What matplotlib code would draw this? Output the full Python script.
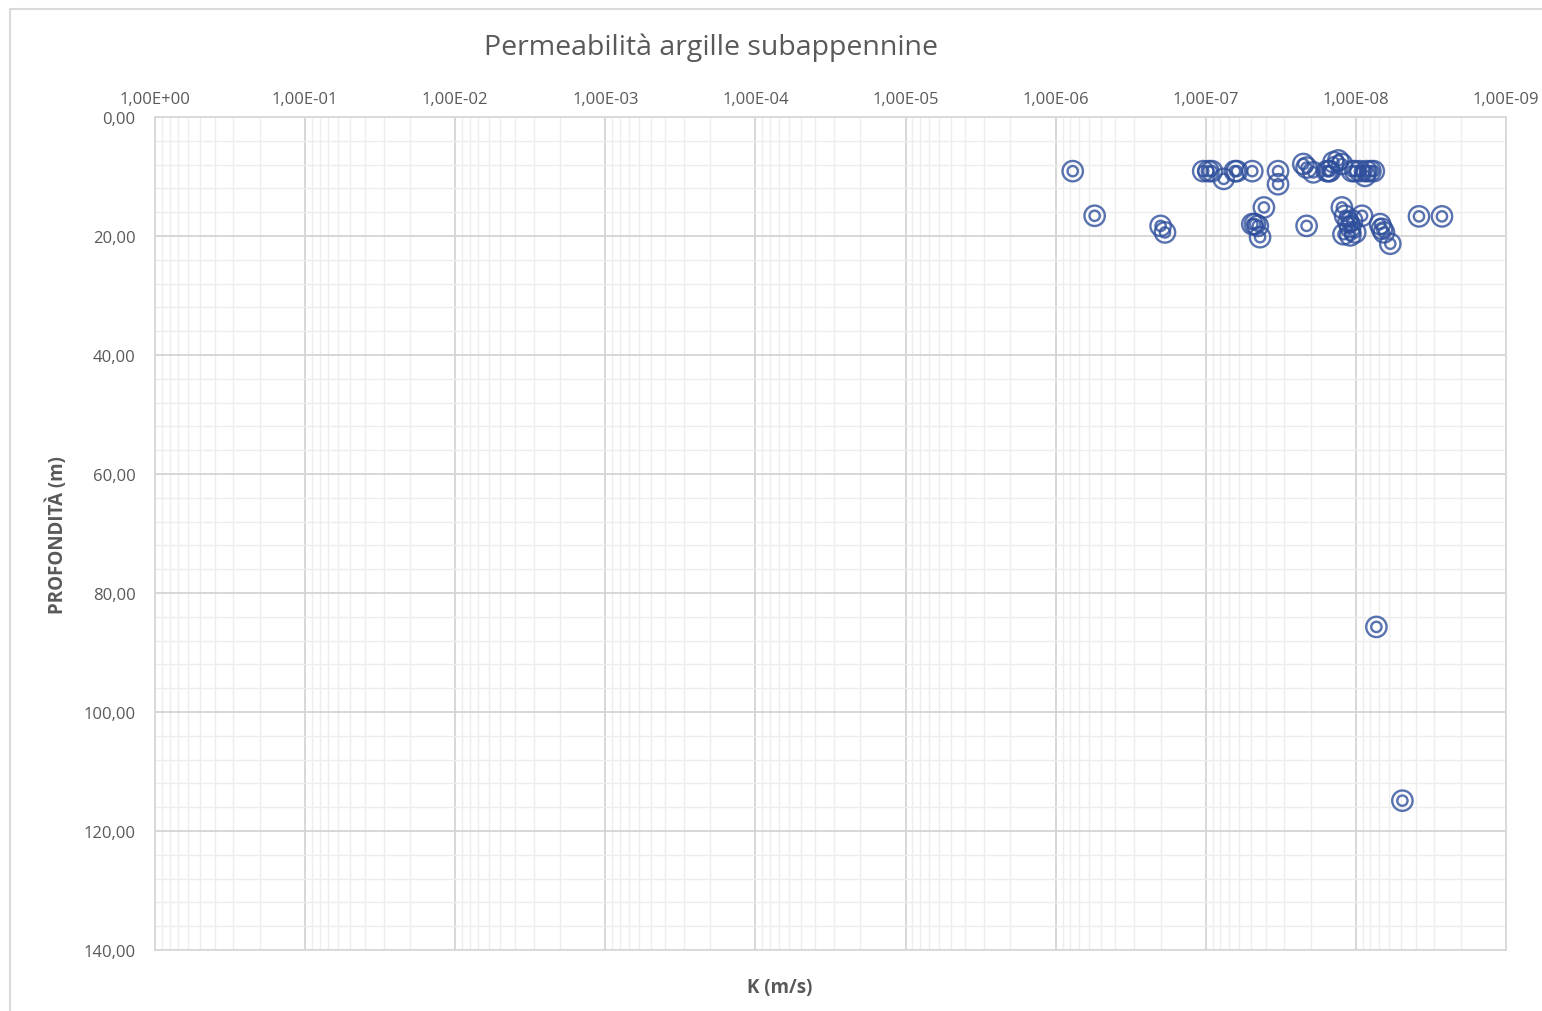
import numpy as np
import matplotlib
matplotlib.use("Agg")
import matplotlib.pyplot as plt
from matplotlib.ticker import FixedLocator, LogLocator, MultipleLocator, NullFormatter
from matplotlib.patches import Rectangle

plt.rcParams["font.family"] = ["Open Sans", "DejaVu Sans"]

# permeability K (m/s) and depth (m)
k_values = [
    7.7e-7, 1.04e-7, 9.6e-8, 9.1e-8, 7.6e-8, 6.4e-8, 6.2e-8, 4.9e-8, 3.3e-8, 3.3e-8,
    2.24e-8, 2.13e-8, 1.92e-8, 1.56e-8, 1.52e-8, 1.49e-8, 1.41e-8, 1.31e-8, 1.24e-8,
    1.06e-8, 1.01e-8, 9.4e-9, 8.7e-9, 8.5e-9, 8.0e-9, 7.6e-9,
    5.5e-7, 2.0e-7, 1.87e-7, 4.1e-8, 4.9e-8, 4.7e-8, 4.5e-8, 4.35e-8, 2.13e-8,
    1.24e-8, 1.18e-8, 1.12e-8, 1.06e-8, 1.09e-8, 1.21e-8, 1.09e-8, 1.01e-8,
    9.1e-9, 6.9e-9, 6.7e-9, 6.5e-9, 5.9e-9, 3.8e-9, 2.67e-9,
    7.3e-9, 4.9e-9,
]
depths = [
    9.1, 9.1, 9.1, 9.1, 10.4, 9.1, 9.1, 9.1, 9.1, 11.3,
    7.9, 8.5, 9.3, 9.1, 9.1, 9.1, 7.6, 7.3, 7.9,
    9.1, 9.1, 9.1, 9.9, 9.1, 9.1, 9.1,
    16.6, 18.3, 19.4, 15.2, 18.0, 18.0, 18.3, 20.2, 18.3,
    15.2, 16.6, 17.7, 17.4, 18.5, 19.7, 19.9, 19.4,
    16.6, 18.0, 18.8, 19.4, 21.3, 16.7, 16.7,
    85.7, 114.9,
]

x_ticks = [10.0 ** -i for i in range(10)]
x_tick_labels = ["1,00E+00", "1,00E-01", "1,00E-02", "1,00E-03", "1,00E-04",
                 "1,00E-05", "1,00E-06", "1,00E-07", "1,00E-08", "1,00E-09"]
y_ticks = [0, 20, 40, 60, 80, 100, 120, 140]
y_tick_labels = ["0,00", "20,00", "40,00", "60,00", "80,00", "100,00", "120,00", "140,00"]

fig = plt.figure(figsize=(15.42, 10.12), dpi=100)
ax = fig.add_axes([155 / 1542, 1 - 951 / 1012, (1506 - 155) / 1542, (951 - 118) / 1012])

# outer chart frame
fig.patches.append(Rectangle((10 / 1542, -0.01), 1.0, 1 - 10 / 1012 + 0.01,
                             transform=fig.transFigure, fill=False,
                             edgecolor="#D9D9D9", linewidth=1.5))

ax.set_xscale("log")
ax.set_xlim(1.0, 1e-9)
ax.set_ylim(140, 0)

ax.xaxis.set_major_locator(FixedLocator(x_ticks))
ax.set_xticklabels(x_tick_labels)
ax.xaxis.set_minor_locator(LogLocator(base=10, subs=np.arange(2, 10), numticks=100))
ax.xaxis.set_minor_formatter(NullFormatter())
ax.set_yticks(y_ticks)
ax.set_yticklabels(y_tick_labels)
ax.yaxis.set_minor_locator(MultipleLocator(4))

ax.xaxis.tick_top()
ax.tick_params(axis="both", which="both", length=0, colors="#595959", labelsize=12)
ax.tick_params(axis="x", pad=7)
ax.tick_params(axis="y", pad=14)

ax.grid(True, which="major", color="#D4D4D4", linewidth=1.3)
ax.grid(True, which="minor", color="#EDEDED", linewidth=1.0)
ax.set_axisbelow(True)
for s in ax.spines.values():
    s.set_color("#D9D9D9")
    s.set_linewidth(1.3)

blue = "#2F4F9C"
ax.scatter(k_values, depths, s=215, facecolors="none", edgecolors=blue,
           linewidths=1.7, alpha=0.8, zorder=3)
ax.scatter(k_values, depths, s=55, facecolors="none", edgecolors=blue,
           linewidths=1.7, alpha=0.8, zorder=3)

fig.text(711 / 1542, 1 - 48 / 1012, "Permeabilità argille subappennine",
         ha="center", va="center", fontsize=20.5, color="#595959")
fig.text(780 / 1542, 1 - 988 / 1012, "K (m/s)", ha="center", va="center",
         fontsize=13.5, fontweight="bold", color="#595959")
fig.text(57 / 1542, 1 - 535 / 1012, "PROFONDITÀ (m)", ha="center", va="center",
         rotation=90, fontsize=13.5, fontweight="bold", color="#595959")

fig.savefig("out.png", dpi=100, facecolor="white")
